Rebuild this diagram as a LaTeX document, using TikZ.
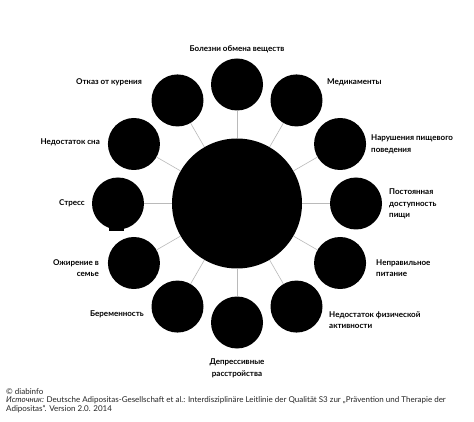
\documentclass[tikz,border=0pt]{standalone}
\usepackage{fontspec}
\setmainfont{Lato}
\usetikzlibrary{calc}
\begin{document}
\begin{tikzpicture}[x=1pt,y=-1pt,
  lbl/.style={font=\bfseries\fontsize{8}{11.6}\selectfont, inner sep=0pt, text=black},
  sat/.style={circle, fill=black, minimum size=52pt, inner sep=0pt},
  link/.style={draw=black!27, line width=0.6pt}]
\useasboundingbox (0,0) rectangle (474,422);
\fill[white] (0,0) rectangle (474,422);
\coordinate (C) at (237,203.5);
\node[circle, fill=black, minimum size=130pt, inner sep=0pt] (hub) at (C) {};
\foreach \i/\a in {1/90,2/60,3/30,4/0,5/-30,6/-60,7/-90,8/-120,9/-150,10/180,11/150,12/120}{
  \node[sat] (s\i) at ($(C)+({119*cos(\a)},{-119*sin(\a)})$) {};
  \draw[link] (hub) -- (s\i);
}
\fill[black] (109,226) rectangle (124,231.5);
\node[lbl, anchor=center] (t1) at (237,49) {Болезни обмена веществ};
\node[lbl, anchor=west] (t2) at (327,82) {Медикаменты};
\node[lbl, anchor=west, align=left] (t3) at (371,144) {Нарушения пищевого\\поведения};
\node[lbl, anchor=west, align=left] (t4) at (389,204) {Постоянная\\доступность\\пищи};
\node[lbl, anchor=west, align=left] (t5) at (376,268) {Неправильное\\питание};
\node[lbl, anchor=west, align=left] (t6) at (329,320) {Недостаток физической\\активности};
\node[lbl, anchor=center, align=center] (t7) at (237,368) {Депрессивные\\расстройства};
\node[lbl, anchor=east] (t8) at (144,314) {Беременность};
\node[lbl, anchor=east, align=right] (t9) at (99,268) {Ожирение в\\семье};
\node[lbl, anchor=east] (t10) at (85,203.5) {Стресс};
\node[lbl, anchor=east] (t11) at (100,142.5) {Недостаток сна};
\node[lbl, anchor=east] (t12) at (142,82) {Отказ от курения};
\node[font=\fontsize{8}{8.6}\selectfont, text=black!85, anchor=north west, align=left, inner sep=0pt] (foot) at (6,388)
 {© diabinfo\\\textit{Источник:} Deutsche Adipositas-Gesellschaft et al.: Interdisziplinäre Leitlinie der Qualität S3 zur „Prävention und Therapie der\\Adipositas“. Version 2.0. 2014};
\end{tikzpicture}
\end{document}
